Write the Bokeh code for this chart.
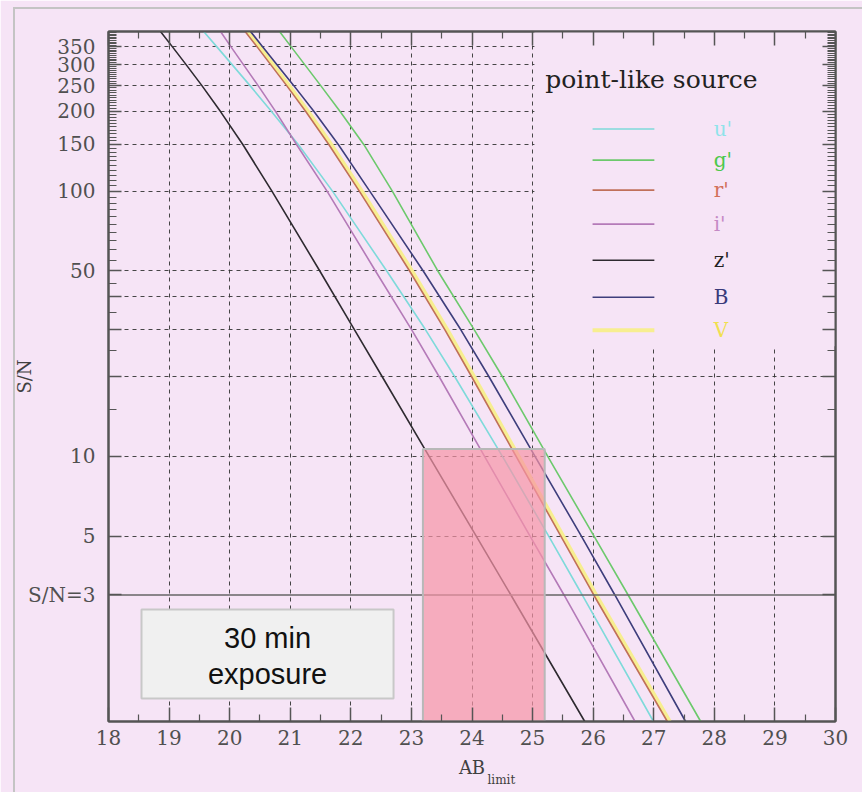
from bokeh.plotting import figure
from bokeh.models import (FixedTicker, LinearAxis, LogAxis, CustomJSTickFormatter,
                          Label, Title, ColumnDataSource, InlineStyleSheet)
from bokeh.core.properties import value
from bokeh.embed import file_html
from bokeh.resources import INLINE

# ---------------- data ----------------
sn = [400, 350, 300, 250, 200, 150, 100, 50, 30, 20, 10, 5, 3, 1]
mag_u = [19.571, 19.789, 20.040, 20.336, 20.687, 21.132, 21.697, 22.593, 23.234, 23.713, 24.502, 25.266, 25.819, 26.996]
mag_g = [20.823, 21.016, 21.239, 21.503, 21.820, 22.213, 22.685, 23.436, 24.038, 24.500, 25.250, 26.014, 26.577, 27.775]
mag_r = [20.255, 20.453, 20.677, 20.941, 21.253, 21.636, 22.140, 22.970, 23.553, 23.992, 24.728, 25.466, 26.009, 27.224]
mag_i = [19.849, 20.022, 20.227, 20.470, 20.757, 21.103, 21.607, 22.407, 23.005, 23.456, 24.207, 24.958, 25.519, 26.691]
mag_z = [18.858, 19.056, 19.281, 19.542, 19.846, 20.217, 20.697, 21.488, 22.061, 22.516, 23.292, 24.070, 24.642, 25.861]
mag_B = [20.344, 20.547, 20.781, 21.059, 21.389, 21.793, 22.312, 23.195, 23.816, 24.278, 25.040, 25.805, 26.358, 27.525]
mag_V = [20.295, 20.493, 20.717, 20.981, 21.293, 21.676, 22.180, 23.010, 23.593, 24.032, 24.768, 25.506, 26.049, 27.264]

bands = ["u'", "g'", "r'", "i'", "z'", "B", "V"]
x_ticks = list(range(18, 31))
y_grid_ticks = [5, 10, 20, 30, 40, 50, 100, 150, 200, 250, 300, 350]
sn_limit = 3
band_low, band_high = 23.19, 25.2      # shaded magnitude window
band_top = 10.65
exposure_text = ["30 min", "exposure"]
legend_title = "point-like source"

# ---------------- styles ----------------
BG = "#F6E4F6"
AX = "#555555"
SERIF = "DejaVu Serif"
line_colors = {"u'": "#7EDADA", "g'": "#6CC96C", "r'": "#C0705A", "i'": "#B47AB8",
               "z'": "#2E2A30", "B": "#3E3E7C", "V": "#F7EE90"}
text_colors = {"u'": "#8FE3EA", "g'": "#4CC84C", "r'": "#D2705A", "i'": "#C58AC5",
               "z'": "#222222", "B": "#3A3A7A", "V": "#F0E050"}
mags = {"u'": mag_u, "g'": mag_g, "r'": mag_r, "i'": mag_i, "z'": mag_z, "B": mag_B, "V": mag_V}

frame_css = InlineStyleSheet(css="""
:host::after {
  content: ""; position: absolute; left: 13px; top: 7px; right: 0; bottom: 0;
  border-left: 2px solid #C4C4C4; border-top: 2px solid #C4C4C4;
  pointer-events: none; z-index: 100;
}
""")

p = figure(width=862, height=792, x_range=(18, 30), y_range=(1, 400), y_axis_type="log",
           output_backend="svg", toolbar_location=None,
           min_border_left=108, min_border_right=27, min_border_top=31, min_border_bottom=71,
           background_fill_color=BG, border_fill_color=BG, outline_line_color=AX,
           outline_line_width=2, stylesheets=[frame_css])

# grid
p.xgrid.ticker = FixedTicker(ticks=x_ticks[1:-1])
p.ygrid.ticker = FixedTicker(ticks=y_grid_ticks)
for g in (p.xgrid[0], p.ygrid[0]):
    g.grid_line_color = "#333333"
    g.grid_line_dash = "4 4"
    g.grid_line_width = 1
    g.grid_line_alpha = 0.9

x_minor = [t + 0.5 for t in x_ticks[:-1]]
y_major = [3, 5, 10, 20, 30, 40, 50, 100, 150, 200, 250, 300, 350]
y_minor = [15, 25, 35, 45] + [v for v in range(55, 400, 5) if v not in y_major]

fmt_y = CustomJSTickFormatter(code="""
    const m = {3:'S/N=3',5:'5',10:'10',50:'50',100:'100',150:'150',200:'200',250:'250',300:'300',350:'350'};
    const k = Math.round(tick);
    return (k in m && Math.abs(tick-k)<1e-6) ? m[k] : '';
""")
fmt_blank = CustomJSTickFormatter(code="return '';")

def style_axis(ax, major_len, minor_len):
    ax.axis_line_color = AX
    ax.axis_line_width = 2
    ax.major_tick_line_color = AX
    ax.minor_tick_line_color = AX
    ax.major_tick_line_width = 1.5
    ax.minor_tick_line_width = 1.2
    ax.major_tick_in = major_len
    ax.major_tick_out = 0
    ax.minor_tick_in = minor_len
    ax.minor_tick_out = 0
    ax.major_label_text_font = SERIF
    ax.major_label_text_font_size = "20px"
    ax.major_label_text_color = "#505050"
    ax.axis_label_text_font = SERIF
    ax.axis_label_text_font_style = "normal"
    ax.axis_label_text_font_size = "18px"
    ax.axis_label_text_color = "#404040"

xb = p.xaxis[0]
xb.ticker = FixedTicker(ticks=x_ticks, minor_ticks=x_minor)
style_axis(xb, 14, 7)
xb.major_label_standoff = 8
xb.axis_label = "AB"
xb.axis_label_standoff = 9

xt = LinearAxis(ticker=FixedTicker(ticks=x_ticks, minor_ticks=x_minor), formatter=fmt_blank)
style_axis(xt, 14, 7)
xt.major_label_text_font_size = "0px"
p.add_layout(xt, "above")

yl = p.yaxis[0]
yl.ticker = FixedTicker(ticks=y_major, minor_ticks=y_minor)
yl.formatter = fmt_y
style_axis(yl, 13, 8)
yl.major_label_standoff = 13
yl.axis_label = "S/N"
yl.axis_label_standoff = -10

yr = LogAxis(ticker=FixedTicker(ticks=y_major, minor_ticks=y_minor), formatter=fmt_blank)
style_axis(yr, 13, 8)
yr.major_label_text_font_size = "0px"
p.add_layout(yr, "right")

# subscript of the x-axis title
p.add_layout(Title(text="limit", align="left", offset=379, standoff=-16, vertical_align="top",
                   text_font=SERIF, text_font_size="12px", text_font_style="normal",
                   text_color="#404040"), "below")

# legend background (hides grid in that corner)
p.quad(left=[25.03], right=[30], bottom=[26], top=[400], fill_color=BG, line_color=None)

# curves
for b in ["V", "r'", "u'", "i'", "z'", "B", "g'"]:
    p.line(mags[b], sn, line_color=line_colors[b], line_width=4 if b == "V" else 1.6)

# S/N = 3 line
p.line([18, 30], [sn_limit, sn_limit], line_color="#666666", line_width=1.6)

# shaded window
p.quad(left=[band_low], right=[band_high], bottom=[1], top=[band_top],
       fill_color="#F694A6", fill_alpha=0.7, line_color="#B8B8B8", line_width=2)

# exposure box
p.quad(left=[18.545], right=[22.705], bottom=[1.221], top=[2.647],
       fill_color="#F0F0F0", line_color="#C8C8C8", line_width=2)
p.text(x=[20.625, 20.625], y=[2.057, 1.517], text=exposure_text, text_align="center",
       text_baseline="middle", text_font=value("Liberation Sans"), text_font_size="29px",
       text_color="#111111")

# legend
leg_y = [171.5, 130.9, 100.9, 75.1, 54.9, 39.8, 29.9]
for b, yy in zip(bands, leg_y):
    p.line([25.99, 27.01], [yy, yy], line_color=line_colors[b], line_width=4 if b == "V" else 1.6)
src = ColumnDataSource(dict(x=[27.99] * len(bands), y=leg_y, t=bands,
                            c=[text_colors[b] for b in bands]))
p.text(x="x", y="y", text="t", text_color="c", source=src, text_baseline="middle",
       text_font=value(SERIF), text_font_size="20px")
p.add_layout(Label(x=25.21, y=264.6, text=legend_title, text_baseline="middle",
                   text_font=SERIF, text_font_size="25px", text_color="#222222"))

open("out.html", "w").write(file_html(p, INLINE))
